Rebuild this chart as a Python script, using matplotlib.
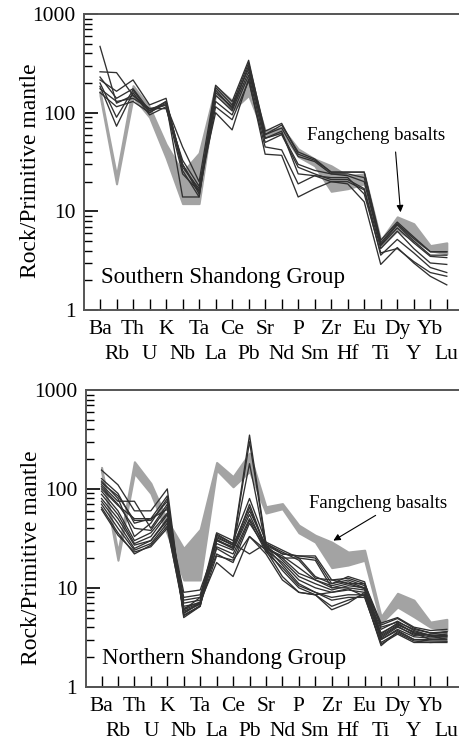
import numpy as np
import matplotlib
matplotlib.use("Agg")
import matplotlib.pyplot as plt
from matplotlib.ticker import LogLocator, NullFormatter, FixedLocator

plt.rcParams['font.family'] = ['Liberation Serif', 'DejaVu Serif']

elements = ["Ba", "Rb", "Th", "U", "K", "Nb", "Ta", "La", "Ce", "Pb", "Sr",
            "Nd", "P", "Sm", "Zr", "Hf", "Eu", "Ti", "Dy", "Y", "Yb", "Lu"]

# Fangcheng basalts field (lower / upper envelope)
fang_lo = [150, 19, 144, 90, 35, 12, 12, 155, 105, 150, 57, 63, 36, 29, 16, 17, 19, 4.4, 6.4, 5.1, 4.0, 3.7]
fang_hi = [165, 23, 188, 114, 48, 25, 39, 185, 133, 230, 66, 71, 43, 34, 29, 23, 24, 5.1, 8.8, 7.5, 4.5, 4.8]

# Southern Shandong Group samples
south = [
    [470, 125, 150, 105, 130, 30, 16, 170, 110, 300, 55, 62, 30, 26, 24, 23, 20, 4.5, 6.8, 4.8, 3.5, 3.4],
    [260, 255, 150, 110, 120, 45, 20, 190, 130, 340, 60, 75, 40, 34, 25, 25, 25, 5.1, 7.8, 5.5, 3.9, 3.9],
    [215, 165, 215, 120, 140, 26, 14, 180, 120, 320, 65, 78, 38, 33, 25, 25, 25, 4.8, 7.5, 5.3, 3.9, 3.9],
    [200, 90, 170, 100, 125, 14, 14, 150, 105, 260, 60, 70, 36, 32, 24, 24, 22, 4.6, 7.3, 5.0, 3.6, 3.6],
    [185, 73, 160, 95, 115, 24, 16, 130, 95, 240, 50, 60, 28, 24, 21, 21, 17, 4.2, 6.3, 4.2, 3.0, 2.9],
    [175, 130, 140, 110, 110, 33, 18, 100, 67, 220, 38, 37, 14, 17, 20, 20, 16.5, 3.6, 5.2, 3.8, 2.7, 2.4],
    [160, 115, 130, 100, 130, 30, 15, 115, 85, 210, 45, 42, 19, 23, 20, 19, 12.5, 2.9, 4.3, 3.0, 2.2, 1.8],
    [230, 140, 175, 105, 120, 28, 17, 160, 115, 280, 55, 65, 24, 23, 22, 22, 15, 3.8, 4.2, 3.1, 2.4, 2.2],
]

# Northern Shandong Group samples
north = [
    [155, 110, 60, 60, 100, 5.2, 6.5, 35, 28, 350, 28, 22, 21, 21, 12, 11, 11, 4.4, 5.0, 4.0, 3.7, 3.8],
    [127, 90, 45, 50, 85, 5.5, 7.0, 33, 27, 300, 27, 22, 21, 20, 11, 12, 10.5, 4.2, 4.9, 3.9, 3.5, 3.5],
    [120, 80, 33, 45, 80, 5.0, 6.5, 30, 26, 180, 26, 20, 20, 19, 10, 11, 9.8, 3.8, 4.6, 3.7, 3.3, 3.4],
    [110, 75, 75, 40, 70, 6.0, 8.0, 36, 30, 80, 29, 24, 20, 13, 11, 13, 11.5, 3.3, 4.2, 3.6, 3.3, 3.2],
    [100, 68, 50, 50, 62, 7.0, 7.5, 32, 27, 65, 25, 20, 14, 12, 10, 10, 9.5, 3.1, 4.0, 3.4, 3.2, 3.3],
    [95, 60, 30, 36, 57, 8.0, 8.5, 30, 25, 60, 27, 19, 13, 11, 9.5, 10.5, 10, 3.0, 3.8, 3.2, 3.1, 3.2],
    [88, 55, 28, 33, 55, 9.0, 9.5, 28, 24, 55, 24, 18, 12, 10, 9, 9.5, 9, 3.5, 4.3, 3.5, 3.0, 3.0],
    [80, 50, 27, 30, 50, 6.5, 7.0, 26, 22, 50, 26, 17, 11, 9, 8, 8.5, 8.5, 2.6, 3.6, 3.0, 2.9, 2.9],
    [75, 45, 25, 30, 48, 6.0, 7.0, 25, 20, 48, 23, 16, 10.5, 9, 7.5, 8, 8, 2.8, 3.5, 2.9, 2.8, 2.85],
    [70, 40, 24, 28, 45, 7.5, 8.0, 22, 18, 45, 25, 15, 10, 8.5, 6.5, 7.5, 8.5, 3.2, 4.1, 3.3, 3.4, 3.6],
    [65, 36, 22, 27, 42, 5.8, 6.8, 21, 19, 33, 24, 13, 9, 8.5, 6, 7, 9, 3.0, 3.7, 3.0, 3.0, 3.1],
    [62, 34, 23, 26, 40, 6.2, 7.2, 18, 13, 33, 22, 12, 9, 8.5, 9, 9.8, 8.2, 2.7, 3.4, 2.8, 2.8, 2.8],
    [115, 85, 48, 48, 75, 5.3, 6.6, 34, 28, 22, 28, 23, 19, 12.5, 12, 12.5, 11, 4.0, 4.5, 3.8, 3.5, 3.6],
    [105, 70, 40, 38, 66, 5.6, 7.0, 31, 25, 70, 25, 21, 16, 12, 10.5, 11.5, 10, 3.4, 4.4, 3.5, 3.3, 3.3],
]

group_names = ["Southern Shandong Group", "Northern Shandong Group"]
note_text = "Fangcheng basalts"
# text centre, arrow start, arrow tip (element index, value)
note_pos = [(16.7, 59), (16.8, 72)]
arrow_from = [(17.9, 40), (16.67, 54)]
arrow_to = [(18.2, 9.8), (14.1, 30)]
group_pos = [(0.05, 2.15), (0.0, 1.95)]

x = np.arange(len(elements))
fig = plt.figure(figsize=(4.6, 7.4), dpi=100)
axes = [fig.add_axes([0.1826, 0.581, 0.8174, 0.4]),
        fig.add_axes([0.186, 0.072, 0.814, 0.401])]

for k, (ax, samples) in enumerate(zip(axes, [south, north])):
    ax.fill_between(x, fang_lo, fang_hi, color='#a3a3a3', lw=1.5, zorder=1)
    for s in samples:
        ax.plot(x, s, color='#303030', lw=0.95, zorder=2)

    ax.set_yscale('log')
    ax.set_ylim(1, 1000)
    ax.set_xlim(-0.97, 21.8)
    ax.yaxis.set_major_locator(FixedLocator([1, 10, 100, 1000]))
    ax.yaxis.set_minor_locator(LogLocator(base=10, subs=np.arange(2, 10)))
    ax.yaxis.set_minor_formatter(NullFormatter())
    ax.set_yticklabels(["1", "10", "100", "1000"], fontsize=15.5)
    ax.tick_params(axis='y', which='major', direction='in', length=10, width=1.2, pad=6)
    ax.tick_params(axis='y', which='minor', direction='in', length=6, width=1.0)

    # element labels on two staggered rows: even on the upper row, odd on the lower
    ax.set_xticks(x[::2], elements[::2], fontsize=15.5)
    ax.set_xticks(x[1::2], elements[1::2], minor=True, fontsize=15.5)
    ax.tick_params(axis='x', which='major', direction='in', length=8, width=1.0, pad=7.5)
    ax.tick_params(axis='x', which='minor', direction='in', length=8, width=1.0, pad=25.5)

    ax.spines['right'].set_visible(False)
    for sp in ['left', 'top', 'bottom']:
        ax.spines[sp].set_color('#555555')
        ax.spines[sp].set_linewidth(1.4)

    ax.set_ylabel("Rock/Primitive mantle", fontsize=17)
    ax.yaxis.set_label_coords(-0.115, [0.47, 0.435][k])

    ax.text(group_pos[k][0], group_pos[k][1], group_names[k], fontsize=16.5,
            va='center', ha='left')
    ax.text(note_pos[k][0], note_pos[k][1], note_text, fontsize=13.5,
            va='center', ha='center')
    ax.annotate("", xy=arrow_to[k], xytext=arrow_from[k],
                arrowprops=dict(arrowstyle='-|>', color='black', lw=0.8,
                                mutation_scale=10, shrinkA=0, shrinkB=0))

fig.savefig("out.png", dpi=100)
